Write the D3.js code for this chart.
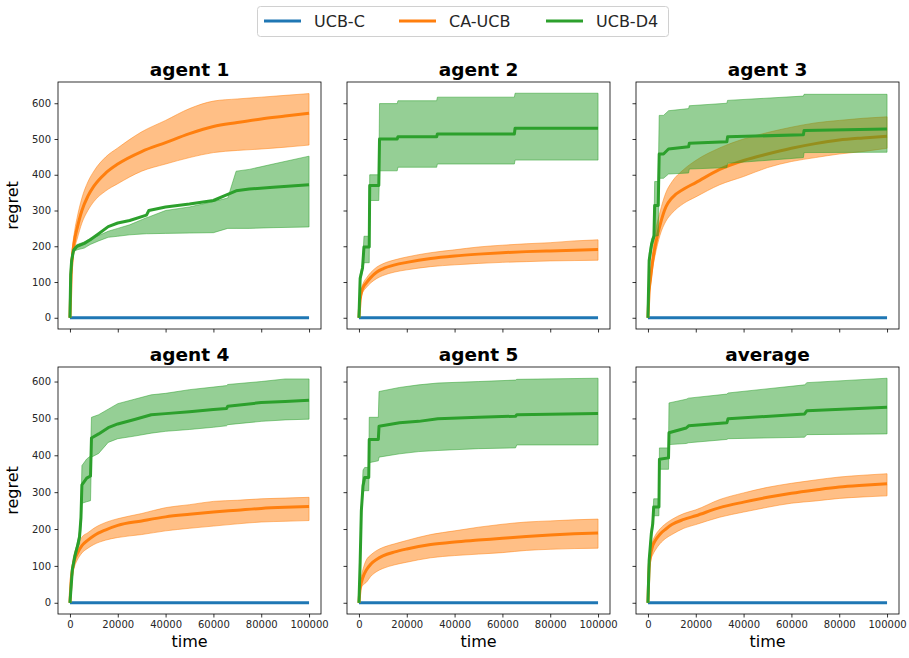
<!DOCTYPE html>
<html>
<head>
<meta charset="utf-8">
<script src="https://cdnjs.cloudflare.com/ajax/libs/d3/7.8.5/d3.min.js"></script>
<style>
    body { margin: 0; background: #fff; }
    svg text { font-family: "DejaVu Sans", sans-serif; }
</style>
</head>
<body>
<svg id="chart" width="909" height="658"></svg>
<script>
const panelTitles = ['agent 1', 'agent 2', 'agent 3', 'agent 4', 'agent 5', 'average'];
const seriesNames = ['UCB-C', 'CA-UCB', 'UCB-D4'];
const seriesColors = ['#1f77b4', '#ff7f0e', '#2ca02c'];
const xTicks = [0, 20000, 40000, 60000, 80000, 100000];
const yTicks = [0, 100, 200, 300, 400, 500, 600];

// UCB-C stays at zero regret
const ucbTime = [0, 100000];
const ucbRegret = [0, 0];

// CA-UCB: mean and band, one row per panel
const caTime = [0, 500, 1000, 2000, 3000, 5000, 7500, 10000, 15000, 20000, 30000, 40000, 50000, 60000, 70000, 80000, 90000, 100000];
const caMean = [
    [0, 120, 170, 220, 250, 300, 340, 368, 405, 430, 465, 490, 515, 535, 546, 556, 564, 572],
    [0, 50, 70, 88, 97, 113, 128, 137, 148, 155, 166, 173, 178, 182, 185, 187, 189, 191],
    [0, 75, 105, 160, 200, 258, 310, 335, 360, 378, 415, 440, 458, 474, 487, 497, 503, 508],
    [0, 60, 88, 118, 133, 155, 170, 182, 198, 210, 222, 233, 240, 246, 251, 256, 259, 261],
    [0, 40, 55, 75, 88, 105, 118, 127, 138, 146, 158, 165, 170, 175, 180, 184, 187, 189],
    [0, 95, 125, 155, 168, 186, 200, 212, 226, 236, 258, 273, 286, 297, 306, 314, 319, 323]
];
const caLow = [
    [0, 105, 150, 195, 220, 265, 300, 325, 355, 375, 410, 430, 448, 462, 468, 472, 477, 483],
    [0, 42, 60, 76, 84, 98, 110, 118, 128, 134, 143, 148, 152, 155, 157, 159, 160, 161],
    [0, 60, 88, 140, 175, 230, 270, 292, 320, 338, 372, 395, 420, 437, 448, 458, 465, 474],
    [0, 45, 72, 100, 115, 135, 148, 158, 170, 177, 185, 195, 202, 208, 214, 219, 221, 223],
    [0, 28, 40, 50, 55, 72, 85, 93, 103, 110, 122, 128, 132, 136, 142, 145, 147, 148],
    [0, 80, 110, 130, 142, 160, 175, 185, 202, 212, 232, 246, 259, 270, 276, 283, 287, 290]
];
const caHigh = [
    [0, 135, 190, 245, 280, 335, 380, 410, 450, 475, 520, 552, 585, 606, 612, 617, 622, 627],
    [0, 58, 80, 100, 110, 127, 142, 151, 162, 170, 182, 190, 198, 203, 207, 210, 215, 218],
    [0, 90, 125, 185, 235, 295, 350, 380, 415, 440, 475, 500, 518, 533, 545, 552, 558, 562],
    [0, 75, 105, 138, 152, 178, 190, 202, 218, 228, 242, 258, 266, 275, 278, 282, 284, 286],
    [0, 55, 72, 98, 115, 130, 142, 150, 160, 169, 185, 195, 205, 213, 219, 222, 225, 227],
    [0, 110, 140, 168, 182, 200, 215, 226, 242, 252, 280, 298, 313, 324, 333, 341, 346, 350]
];

// UCB-D4: step-like curves, own time points per panel
const d4Time = [
    [0, 300, 700, 1500, 3000, 6000, 8500, 12000, 16000, 20000, 25000, 32000, 33000, 40000, 50000, 60000, 66000, 69500, 75000, 85000, 100000],
    [0, 500, 1500, 2100, 4300, 4500, 8300, 8600, 16000, 16300, 32500, 32800, 65000, 65300, 100000],
    [0, 500, 1500, 2500, 2800, 4300, 4700, 6500, 8600, 17000, 17300, 33000, 33300, 65000, 65300, 100000],
    [0, 1000, 2000, 3000, 4000, 4600, 5000, 7000, 8600, 9000, 12000, 16000, 20000, 27000, 34000, 40000, 50000, 60000, 65500, 66000, 80000, 90000, 100000],
    [0, 500, 1000, 1700, 2400, 4100, 4300, 8100, 8400, 17000, 25000, 33000, 50000, 65500, 66000, 100000],
    [0, 500, 1400, 2000, 2400, 4600, 4800, 8600, 8800, 16000, 17000, 33000, 33500, 65500, 66500, 100000]
];
const d4Mean = [
    [0, 120, 160, 188, 200, 208, 218, 235, 255, 265, 272, 287, 300, 310, 318, 328, 345, 355, 360, 365, 372],
    [0, 110, 140, 198, 198, 370, 370, 500, 500, 506, 506, 514, 514, 530, 530],
    [0, 160, 205, 228, 314, 314, 458, 458, 472, 478, 488, 492, 506, 512, 524, 528],
    [0, 90, 125, 150, 178, 230, 320, 338, 344, 447, 458, 475, 485, 497, 510, 513, 518, 524, 527, 533, 543, 546, 549],
    [0, 110, 250, 317, 340, 340, 443, 443, 479, 488, 492, 499, 503, 506, 510, 513],
    [0, 115, 187, 214, 260, 260, 389, 393, 461, 474, 480, 488, 499, 512, 521, 530]
];
const d4Low = [
    [0, 100, 145, 185, 190, 195, 205, 215, 225, 228, 232, 235, 235, 236, 237, 238, 250, 250, 250, 252, 254],
    [0, 100, 130, 154, 154, 328, 328, 411, 411, 421, 421, 430, 430, 441, 441],
    [0, 140, 190, 225, 228, 230, 390, 390, 402, 405, 416, 420, 432, 448, 462, 463],
    [0, 85, 115, 145, 160, 200, 270, 274, 277, 395, 405, 435, 445, 452, 460, 465, 470, 476, 480, 483, 492, 496, 498],
    [0, 100, 240, 300, 304, 304, 380, 385, 395, 404, 410, 413, 418, 420, 428, 428],
    [0, 105, 175, 200, 236, 236, 362, 362, 429, 432, 434, 443, 445, 449, 456, 458]
];
const d4High = [
    [0, 140, 175, 195, 205, 212, 222, 230, 242, 250, 260, 280, 282, 300, 310, 325, 335, 410, 415, 430, 452],
    [0, 120, 150, 228, 228, 400, 400, 599, 599, 607, 607, 617, 617, 628, 628],
    [0, 180, 220, 235, 381, 381, 566, 566, 579, 585, 593, 600, 608, 620, 625, 625],
    [0, 95, 135, 160, 195, 250, 372, 390, 398, 503, 510, 525, 540, 552, 564, 568, 578, 585, 589, 592, 600, 607, 607],
    [0, 120, 260, 360, 367, 367, 503, 503, 573, 584, 591, 596, 600, 604, 606, 609],
    [0, 125, 200, 230, 282, 282, 420, 420, 542, 552, 555, 566, 569, 591, 597, 609]
];

const svg = d3.select('#chart');

const panelLefts = [58, 347, 636];
const panelTops = [82, 367];
const panelW = 263;
const panelH = 247;

function padded(lo, hi) {
    let m = (hi - lo) * 0.05;
    return [lo - m, hi + m];
}

class PanelDrawer {
    constructor(svg, left, top, width, height) {
        this.g = svg.append('g').attr('transform', 'translate(' + left + ',' + top + ')');
        this.width = width;
        this.height = height;
    }

    setScales(xDomain, yDomain) {
        this.x = d3.scaleLinear().domain(xDomain).range([0, this.width]);
        this.y = d3.scaleLinear().domain(yDomain).range([this.height, 0]);
    }

    strokeLine(times, values, color, curve) {
        let x = this.x, y = this.y;
        let line = d3.line()
            .x(function(d, i) { return x(times[i]); })
            .y(function(d) { return y(d); })
            .curve(curve);

        return this.g.append('path')
            .attr('d', line(values))
            .attr('fill', 'none')
            .attr('stroke', color)
            .attr('stroke-width', 3)
            .attr('stroke-linejoin', 'round');
    }

    fillBand(times, low, high, color, curve) {
        let x = this.x, y = this.y;
        let area = d3.area()
            .x(function(d, i) { return x(times[i]); })
            .y0(function(d, i) { return y(low[i]); })
            .y1(function(d, i) { return y(high[i]); })
            .curve(curve);

        return this.g.append('path')
            .attr('d', area(times))
            .attr('fill', color)
            .attr('fill-opacity', 0.5)
            .attr('stroke', color)
            .attr('stroke-opacity', 0.5)
            .attr('stroke-width', 1);
    }

    drawAxes(title, showX, showY) {
        let xAxis = d3.axisBottom(this.x)
            .tickValues(xTicks)
            .tickSize(3.5)
            .tickPadding(3.5)
            .tickFormat(showX ? d3.format('d') : '');
        let yAxis = d3.axisLeft(this.y)
            .tickValues(yTicks)
            .tickSize(3.5)
            .tickPadding(3.5)
            .tickFormat(showY ? d3.format('d') : '');

        let gx = this.g.append('g')
            .attr('transform', 'translate(0,' + this.height + ')')
            .call(xAxis);
        let gy = this.g.append('g').call(yAxis);

        [gx, gy].forEach(function(a) {
            a.select('.domain').remove();
            a.selectAll('line').attr('stroke', '#000').attr('stroke-width', 0.8);
            a.selectAll('text')
                .attr('fill', '#262626')
                .style('font-size', '10px');
        });

        this.g.append('rect')
            .attr('width', this.width)
            .attr('height', this.height)
            .attr('fill', 'none')
            .attr('stroke', '#000')
            .attr('stroke-width', 0.8);

        this.g.append('text')
            .attr('x', this.width / 2)
            .attr('y', -6)
            .attr('text-anchor', 'middle')
            .style('font-size', '18.5px')
            .style('font-weight', 'bold')
            .text(title);

        if (showY) {
            this.g.append('text')
                .attr('transform', 'translate(-40,' + (this.height / 2) + ') rotate(-90)')
                .attr('text-anchor', 'middle')
                .style('font-size', '16px')
                .text('regret');
        }
        if (showX) {
            this.g.append('text')
                .attr('x', this.width / 2)
                .attr('y', this.height + 33)
                .attr('text-anchor', 'middle')
                .style('font-size', '16px')
                .text('time');
        }
    }
}

let xDomain = padded(d3.min(caTime), d3.max(caTime));

for (let p = 0; p < panelTitles.length; p++) {
    let row = Math.floor(p / 3);
    let col = p % 3;

    // y shared within a row
    let rowMax = 0;
    for (let q = row * 3; q < row * 3 + 3; q++) {
        rowMax = Math.max(rowMax, d3.max(caHigh[q]), d3.max(d4High[q]));
    }

    let panel = new PanelDrawer(svg, panelLefts[col], panelTops[row], panelW, panelH);
    panel.setScales(xDomain, padded(0, rowMax));

    panel.strokeLine(ucbTime, ucbRegret, seriesColors[0], d3.curveLinear);
    panel.strokeLine(caTime, caMean[p], seriesColors[1], d3.curveMonotoneX);
    panel.fillBand(caTime, caLow[p], caHigh[p], seriesColors[1], d3.curveMonotoneX);
    panel.strokeLine(d4Time[p], d4Mean[p], seriesColors[2], d3.curveLinear);
    panel.fillBand(d4Time[p], d4Low[p], d4High[p], seriesColors[2], d3.curveLinear);

    panel.drawAxes(panelTitles[p], row === 1, col === 0);
}

// legend
let legend = svg.append('g');
legend.append('rect')
    .attr('x', 257.5)
    .attr('y', 6.5)
    .attr('width', 411)
    .attr('height', 30)
    .attr('rx', 3)
    .attr('fill', '#fff')
    .attr('stroke', '#d0d0d0')
    .attr('stroke-width', 1);

const legendX = [264, 399, 546];
seriesNames.forEach(function(name, i) {
    legend.append('line')
        .attr('x1', legendX[i])
        .attr('x2', legendX[i] + 37)
        .attr('y1', 21)
        .attr('y2', 21)
        .attr('stroke', seriesColors[i])
        .attr('stroke-width', 3);
    legend.append('text')
        .attr('x', legendX[i] + 50)
        .attr('y', 27)
        .style('font-size', '16px')
        .attr('fill', '#262626')
        .text(name);
});
</script>
</body>
</html>
